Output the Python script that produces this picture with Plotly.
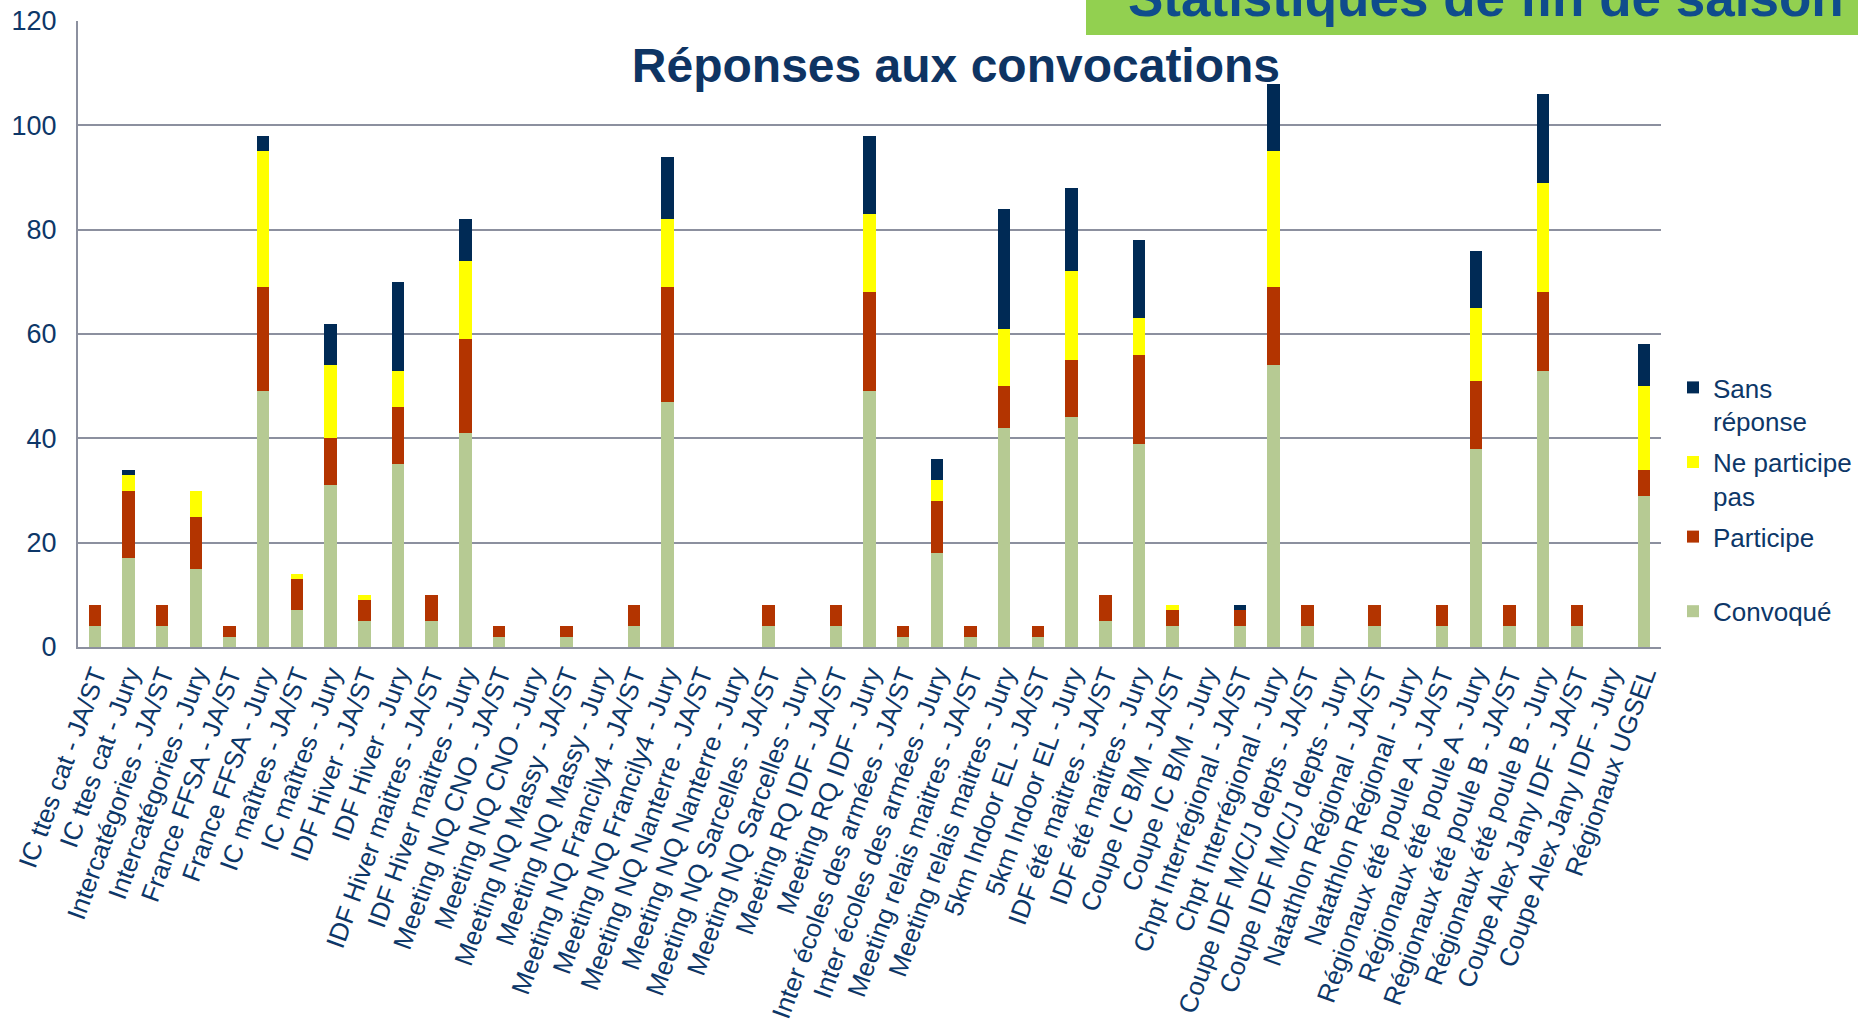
import plotly.graph_objects as go

"""
stacked bar chart of answers to convocations, per competition and role
"""

categories = [
    "IC ttes cat - JA/ST", "IC ttes cat - Jury",
    "Intercatégories - JA/ST", "Intercatégories - Jury",
    "France FFSA - JA/ST", "France FFSA - Jury",
    "IC maîtres - JA/ST", "IC maîtres - Jury",
    "IDF Hiver - JA/ST", "IDF Hiver - Jury",
    "IDF Hiver maitres - JA/ST", "IDF Hiver maitres - Jury",
    "Meeting NQ CNO - JA/ST", "Meeting NQ CNO - Jury",
    "Meeting NQ Massy - JA/ST", "Meeting NQ Massy - Jury",
    "Meeting NQ Francily4 - JA/ST", "Meeting NQ Francily4 - Jury",
    "Meeting NQ Nanterre - JA/ST", "Meeting NQ Nanterre - Jury",
    "Meeting NQ Sarcelles - JA/ST", "Meeting NQ Sarcelles - Jury",
    "Meeting RQ IDF - JA/ST", "Meeting RQ IDF - Jury",
    "Inter écoles des armées - JA/ST", "Inter écoles des armées - Jury",
    "Meeting relais maitres - JA/ST", "Meeting relais maitres - Jury",
    "5km Indoor EL - JA/ST", "5km Indoor EL - Jury",
    "IDF été maitres - JA/ST", "IDF été maitres - Jury",
    "Coupe IC B/M - JA/ST", "Coupe IC B/M - Jury",
    "Chpt Interrégional - JA/ST", "Chpt Interrégional - Jury",
    "Coupe IDF M/C/J depts - JA/ST", "Coupe IDF M/C/J depts - Jury",
    "Natathlon Régional - JA/ST", "Natathlon Régional - Jury",
    "Régionaux été poule A - JA/ST", "Régionaux été poule A - Jury",
    "Régionaux été poule B - JA/ST", "Régionaux été poule B - Jury",
    "Coupe Alex Jany IDF - JA/ST", "Coupe Alex Jany IDF - Jury",
    "Régionaux UGSEL",
]

convoque = [4, 17, 4, 15, 2, 49, 7, 31, 5, 35, 5, 41, 2, 0, 2, 0, 4, 47, 0, 0, 4, 0, 4, 49,
            2, 18, 2, 42, 2, 44, 5, 39, 4, 0, 4, 54, 4, 0, 4, 0, 4, 38, 4, 53, 4, 0, 29]
participe = [4, 13, 4, 10, 2, 20, 6, 9, 4, 11, 5, 18, 2, 0, 2, 0, 4, 22, 0, 0, 4, 0, 4, 19,
             2, 10, 2, 8, 2, 11, 5, 17, 3, 0, 3, 15, 4, 0, 4, 0, 4, 13, 4, 15, 4, 0, 5]
ne_participe_pas = [0, 3, 0, 5, 0, 26, 1, 14, 1, 7, 0, 15, 0, 0, 0, 0, 0, 13, 0, 0, 0, 0, 0, 15,
                    0, 4, 0, 11, 0, 17, 0, 7, 1, 0, 0, 26, 0, 0, 0, 0, 0, 14, 0, 21, 0, 0, 16]
sans_reponse = [0, 1, 0, 0, 0, 3, 0, 8, 0, 17, 0, 8, 0, 0, 0, 0, 0, 12, 0, 0, 0, 0, 0, 15,
                0, 4, 0, 23, 0, 16, 0, 15, 0, 0, 1, 13, 0, 0, 0, 0, 0, 11, 0, 17, 0, 0, 8]

navy = "#0d3768"
font_family = "Liberation Sans, Arial, sans-serif"

fig = go.Figure()
series = [
    ("Convoqué<br> ", convoque, "#b6ca93", 4),
    ("Participe<br> ", participe, "#b33400", 3),
    ("Ne participe<br>pas", ne_participe_pas, "#ffff00", 2),
    ("Sans<br>réponse", sans_reponse, "#002a55", 1),
]
for name, vals, col, rank in series:
    fig.add_trace(go.Bar(x=categories, y=vals, name=name, legendgroup=name, legendrank=rank,
                         marker=dict(color=col, line=dict(width=0))))

# green banner at the top right (slide header, cut by the page edge)
fig.add_shape(type="rect", xref="paper", yref="paper",
              x0=(1086 - 78) / 1583, x1=(1870 - 78) / 1583,
              y0=(647 - 35) / 626, y1=1.2,
              fillcolor="#92d050", line=dict(width=0), layer="below")
fig.add_annotation(text="<b>Statistiques de fin de saison</b>",
                   xref="paper", yref="paper", x=(1486 - 78) / 1583, y=(647 + 2) / 626,
                   xanchor="center", yanchor="middle", showarrow=False,
                   font=dict(family=font_family, size=53, color="#0f4c8c"))

fig.update_layout(
    width=1858, height=1030,
    barmode="stack", bargap=0.63,
    plot_bgcolor="white", paper_bgcolor="white",
    font=dict(family=font_family, size=26, color=navy),
    title=dict(text="<b>Réponses aux convocations</b>", x=0.5145, xanchor="center",
               y=1 - 65 / 1030, yref="container", yanchor="middle",
               font=dict(family=font_family, size=48, color="#0e3463")),
    margin=dict(l=78, r=197, t=21, b=383),
    legend=dict(xref="container", yref="container", x=1673 / 1858, xanchor="left",
                y=1 - 364 / 1030, yanchor="top",
                traceorder="grouped", valign="top", itemwidth=30,
                font=dict(size=26, color=navy), tracegroupgap=4),
    showlegend=True,
)
fig.update_xaxes(type="category", categoryorder="array", categoryarray=categories,
                 tickangle=-70, tickfont=dict(size=26, color=navy),
                 showgrid=False, showline=True, linecolor="#8c909f", linewidth=2,
                 ticks="", automargin=False)
fig.update_yaxes(range=[0, 120], dtick=20, showgrid=True, gridcolor="#8c909f", gridwidth=1.5,
                 showline=True, linecolor="#8c909f", linewidth=2, zeroline=False,
                 tickfont=dict(size=27, color=navy), ticklabelstandoff=14, automargin=False)

# the page body has a default 8px margin, drop it so the figure sits at the corner
fig.write_html("out.html", config={"displayModeBar": False},
               post_script="document.body.style.margin = '0px';")
